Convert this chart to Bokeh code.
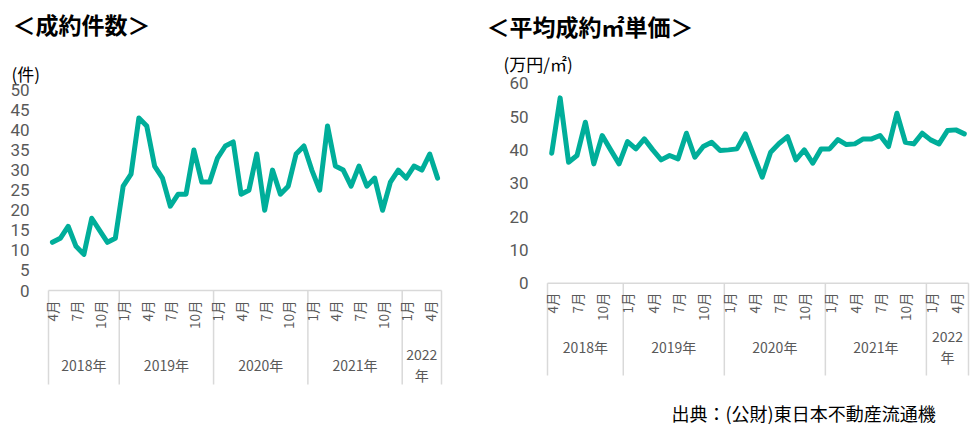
import math
from bokeh.plotting import figure
from bokeh.models import Range1d, ColumnDataSource
from bokeh.layouts import row
from bokeh.embed import file_html
from bokeh.resources import INLINE
from bokeh.core.properties import value

# ---------------- data ----------------
years = [2018, 2019, 2020, 2021, 2022]
months_in_year = [9, 12, 12, 12, 5]
first_month = 4
year_labels = ["2018年", "2019年", "2020年", "2021年", "2022\n年"]
shown_months = [1, 4, 7, 10]

contracts = [12, 13, 16, 11, 9, 18, 15, 12, 13,
             26, 29, 43, 41, 31, 28, 21, 24, 24, 35, 27, 27,
             33, 36, 37, 24, 25, 34, 20, 30, 24, 26, 34, 36,
             30, 25, 41, 31, 30, 26, 31, 26, 28, 20, 27, 30,
             28, 31, 30, 34, 28]

price_per_m2 = [39.0, 55.6, 36.3, 38.3, 48.3, 35.8, 44.3, 40.0, 35.8,
                42.5, 40.3, 43.3, 40.0, 37.0, 38.3, 37.3, 45.0, 37.8, 41.0, 42.3, 39.8,
                40.0, 40.3, 44.8, 38.3, 31.8, 39.3, 41.9, 44.0, 37.0, 40.0, 36.0, 40.3,
                40.3, 43.1, 41.6, 41.8, 43.3, 43.3, 44.3, 41.0, 51.0, 42.3, 41.8, 45.0,
                43.0, 41.8, 45.8, 46.0, 44.8]

left_ticks = list(range(0, 51, 5))
right_ticks = list(range(0, 61, 10))

title_left = "＜成約件数＞"
unit_left = "(件)"
title_right = "＜平均成約㎡単価＞"
unit_right = "(万円/㎡)"
source_text = "出典：(公財)東日本不動産流通機"

# ---------------- styling ----------------
LINE_COLOR = "#00AE9A"
BOX_COLOR = "#D9D9D9"
LABEL_COLOR = "#595959"
JP = "Noto Sans CJK JP"
NUM = "Roboto"

period_month = []
m = first_month
for n in months_in_year:
    for _ in range(n):
        period_month.append(m)
        m = m % 12 + 1
idx = list(range(len(period_month)))

FIG_H = 428


def make_panel(values, ticks, fig_left, fig_w, frame_left, frame_right, y0_page, ppu_y,
               tick_right_page, box_bottom_page, month_top_page, year_center_page,
               texts):
    n = len(values)
    ppu_x = (frame_right - frame_left) / n

    def px2x(px):
        return (px - frame_left) / ppu_x - 0.5

    def py2y(py):
        return (y0_page - py) / ppu_y

    p = figure(width=fig_w, height=FIG_H, output_backend="svg", toolbar_location=None,
               x_range=Range1d(px2x(fig_left), px2x(fig_left + fig_w)),
               y_range=Range1d(py2y(FIG_H), py2y(0)),
               x_axis_location=None, y_axis_location=None,
               min_border_left=0, min_border_right=0,
               min_border_top=0, min_border_bottom=0)
    p.xgrid.visible = False
    p.ygrid.visible = False
    p.outline_line_color = None
    p.background_fill_color = "white"
    p.border_fill_color = "white"

    # y tick labels
    tsrc = ColumnDataSource(dict(x=[px2x(tick_right_page)] * len(ticks), y=ticks,
                                 t=[str(t) for t in ticks]))
    p.text(x="x", y="y", text="t", source=tsrc, text_align="right", text_baseline="middle",
           text_font=value(NUM), text_font_size="17px", text_color=LABEL_COLOR)

    # category box
    bottom = py2y(box_bottom_page)
    bounds = [-0.5]
    for cnt in months_in_year:
        bounds.append(bounds[-1] + cnt)
    p.segment(x0=[-0.5], y0=[0], x1=[n - 0.5], y1=[0], line_color=BOX_COLOR, line_width=1.5)
    p.segment(x0=bounds, y0=[0] * len(bounds), x1=bounds, y1=[bottom] * len(bounds),
              line_color=BOX_COLOR, line_width=1.5)

    # month labels
    mx = [i for i in idx if period_month[i] in shown_months]
    mt = [f"{period_month[i]}月" for i in mx]
    msrc = ColumnDataSource(dict(x=mx, y=[py2y(month_top_page)] * len(mx), t=mt))
    p.text(x="x", y="y", text="t", source=msrc, angle=math.pi / 2,
           text_align="right", text_baseline="middle",
           text_font=value(JP), text_font_size="13.5px", text_color=LABEL_COLOR)

    # year labels
    yc = [(bounds[k] + bounds[k + 1]) / 2 for k in range(len(years))]
    ysrc = ColumnDataSource(dict(x=yc, y=[py2y(year_center_page)] * len(yc), t=year_labels))
    p.text(x="x", y="y", text="t", source=ysrc, text_align="center", text_baseline="middle",
           text_font=value(JP), text_font_size="14px", text_color=LABEL_COLOR,
           text_line_height=1.08)

    # data line
    p.line(idx, values, line_color=LINE_COLOR, line_width=5, line_join="round", line_cap="round")

    # titles, units, source
    for txt, (px, py), size, style in texts:
        s = ColumnDataSource(dict(x=[px2x(px)], y=[py2y(py)], t=[txt]))
        p.text(x="x", y="y", text="t", source=s, text_align="left", text_baseline="middle",
               text_font=value(JP), text_font_size=size, text_font_style=style,
               text_color="black")
    return p


p1 = make_panel(contracts, left_ticks, fig_left=0, fig_w=470, frame_left=48, frame_right=441,
                y0_page=290.0, ppu_y=4.014, tick_right_page=29, box_bottom_page=384,
                month_top_page=300, year_center_page=364,
                texts=[(title_left, (12, 23), "23px", "bold"),
                       (unit_left, (11, 73), "17px", "normal")])

p2 = make_panel(price_per_m2, right_ticks, fig_left=470, fig_w=500, frame_left=547, frame_right=968,
                y0_page=282.7, ppu_y=3.333, tick_right_page=528, box_bottom_page=375,
                month_top_page=292, year_center_page=346,
                texts=[(title_right, (486, 25), "23px", "bold"),
                       (unit_right, (503, 63), "17px", "normal"),
                       (source_text, (671, 412), "18px", "normal")])

layout = row(p1, p2)
open("out.html", "w").write(file_html(layout, INLINE))
